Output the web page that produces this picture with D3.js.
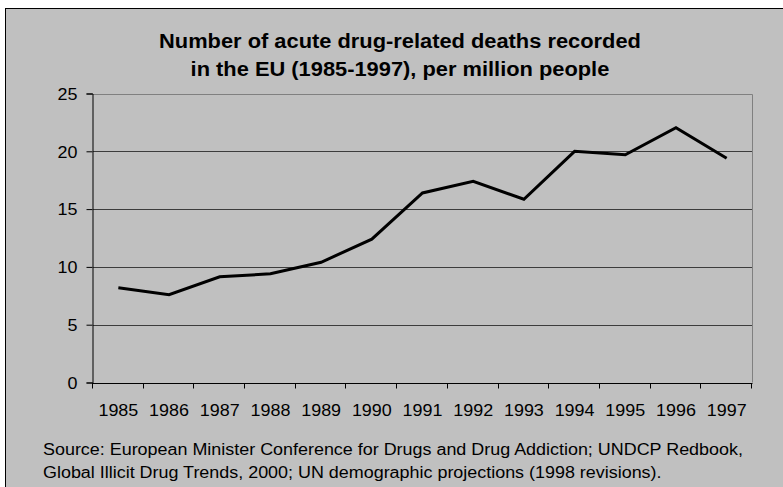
<!DOCTYPE html>
<html><head><meta charset="utf-8">
<script src="https://cdn.jsdelivr.net/npm/d3@7/dist/d3.min.js"></script>
<style>body{margin:0;background:#fff}svg{display:block}</style>
</head><body>
<script>
const years = ["1985","1986","1987","1988","1989","1990","1991","1992","1993","1994","1995","1996","1997"];
const deaths = [8.2, 7.6, 9.15, 9.4, 10.4, 12.4, 16.4, 17.4, 15.85, 20.0, 19.7, 22.05, 19.4];
const yTicks = [0, 5, 10, 15, 20, 25];
const titleLines = ["Number of acute drug-related deaths recorded", "in the EU (1985-1997), per million people"];
const sourceLines = ["Source: European Minister Conference for Drugs and Drug Addiction; UNDCP Redbook,",
                     "Global Illicit Drug Trends, 2000; UN demographic projections (1998 revisions)."];

const W = 783, H = 487;
const svg = d3.select("body").append("svg").attr("width", W).attr("height", H);
const font = "'Liberation Sans', Arial, sans-serif";
const widen = 1.12;
function stretch(sel) {
  sel.each(function() {
    const w = this.getComputedTextLength();
    d3.select(this).attr("textLength", w * widen).attr("lengthAdjust", "spacingAndGlyphs");
  });
}

svg.append("rect").attr("x", 5.5).attr("y", 8.5).attr("width", W + 10).attr("height", H + 10)
  .attr("fill", "#c0c0c0").attr("stroke", "#000").attr("stroke-width", 1);

const m = {l: 93, r: 752, t: 93.5, b: 382.5};
const x = d3.scaleBand().domain(years).range([m.l, m.r]);
const y = d3.scaleLinear().domain([0, 25]).range([m.b, m.t]);

// gridlines
svg.append("g").selectAll("line").data(yTicks.filter(d => d > 0 && d < 25)).join("line")
  .attr("x1", m.l).attr("x2", m.r).attr("y1", d => Math.round(y(d)) + 0.5).attr("y2", d => Math.round(y(d)) + 0.5)
  .attr("stroke", "#3c3c3c").attr("stroke-width", 1);
// plot border top and right
svg.append("path").attr("d", `M${m.l},${Math.round(y(25))+0.5}H${m.r+0.5}V${m.b}`)
  .attr("fill", "none").attr("stroke", "#808080").attr("stroke-width", 1);

// y axis
const yAxis = d3.axisLeft(y).tickValues(yTicks).tickSize(6).tickPadding(9);
const gy = svg.append("g").attr("transform", `translate(${m.l - 0.5},0)`).call(yAxis);
gy.select(".domain").attr("stroke", "#000");
gy.selectAll(".tick line").attr("stroke", "#000");
gy.selectAll("text").attr("font-family", font).attr("font-size", 16).attr("fill", "#000").attr("dy", "0.36em");
stretch(gy.selectAll("text"));

// x axis
const xAxis = d3.axisBottom(x).tickSize(0).tickPadding(21);
const gx = svg.append("g").attr("transform", `translate(0,${Math.round(m.b) + 0.5})`).call(xAxis);
gx.select(".domain").attr("stroke", "#000").attr("d", `M${m.l - 1},0H${m.r + 0.5}`);
gx.selectAll("text").attr("font-family", font).attr("font-size", 16).attr("fill", "#000");
stretch(gx.selectAll("text"));
// category boundary ticks
const bounds = years.map(d => x(d)).concat([m.r]);
gx.append("g").selectAll("line").data(bounds).join("line")
  .attr("x1", d => Math.round(d) - 0.5).attr("x2", d => Math.round(d) - 0.5).attr("y1", 0).attr("y2", 5)
  .attr("stroke", "#000");

// line
const line = d3.line().x((d, i) => x(years[i]) + x.bandwidth() / 2).y(d => y(d));
svg.append("path").datum(deaths).attr("d", line).attr("fill", "none")
  .attr("stroke", "#000").attr("stroke-width", 3).attr("stroke-linejoin", "miter");

// title
const tt = svg.append("g").selectAll("text").data(titleLines).join("text")
  .attr("x", 400).attr("y", (d, i) => 48 + i * 28).attr("text-anchor", "middle")
  .attr("font-family", font).attr("font-weight", "bold").attr("font-size", 19.5)
  .attr("fill", "#000").text(d => d);
stretch(tt);

// source
const st = svg.append("g").selectAll("text").data(sourceLines).join("text")
  .attr("x", 43).attr("y", (d, i) => 455 + i * 23)
  .attr("font-family", font).attr("font-size", 16).attr("fill", "#000").text(d => d);
stretch(st);
</script>
</body></html>
